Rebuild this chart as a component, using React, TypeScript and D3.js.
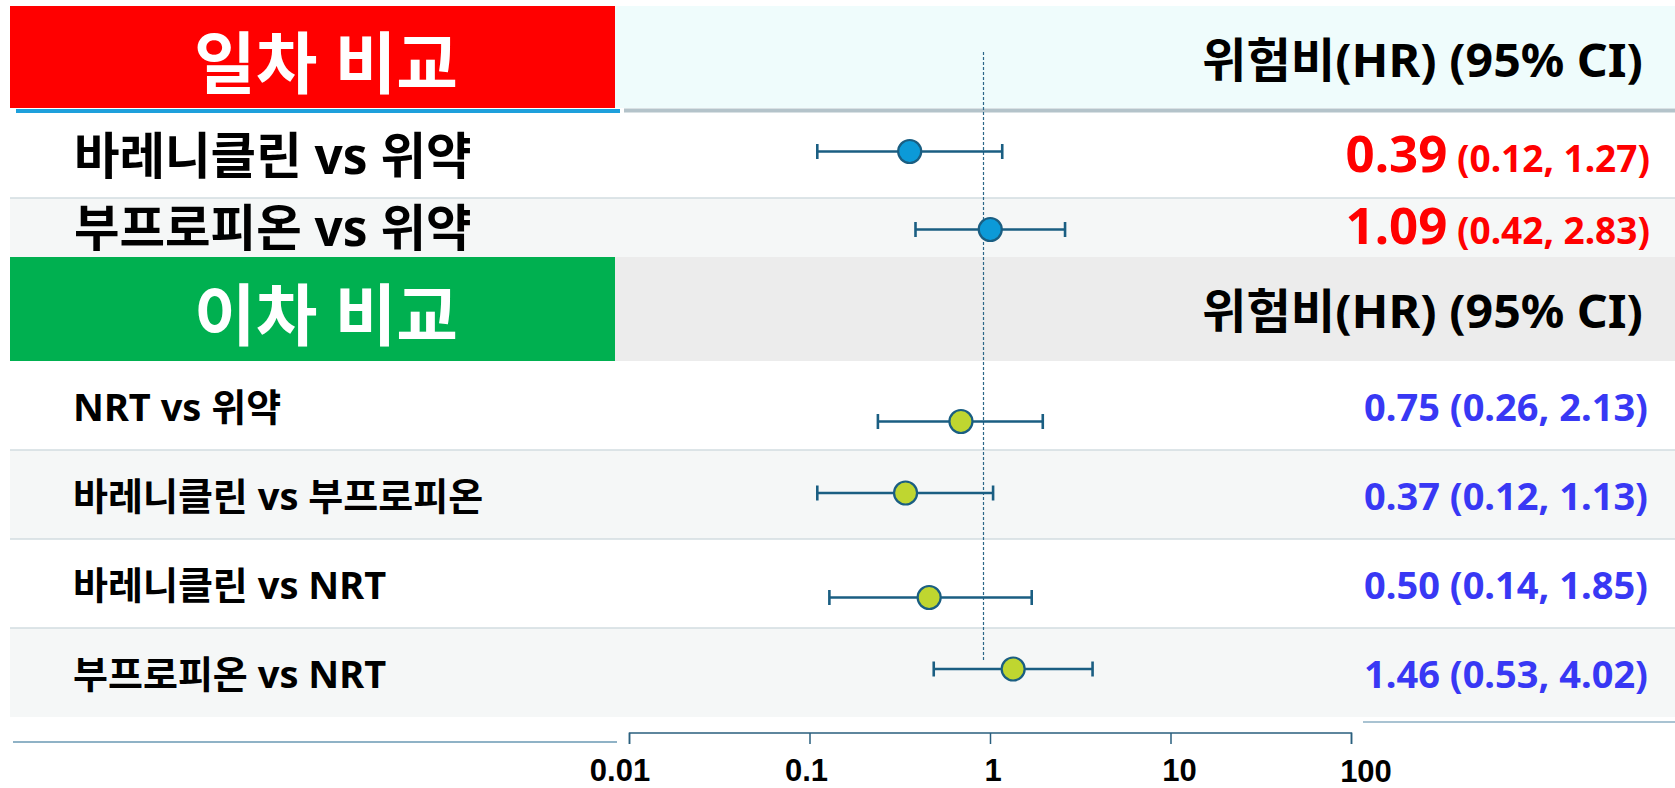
import React from "react";
import * as d3 from "d3";

// Hazard ratios with 95% confidence intervals
const sectionTitles = ["일차 비교", "이차 비교"];
const hrHeader = "위험비(HR) (95% CI)";

const primaryLabels = ["바레니클린 vs 위약", "부프로피온 vs 위약"];
const primaryHR = [0.39, 1.09];
const primaryLower = [0.12, 0.42];
const primaryUpper = [1.27, 2.83];

const secondaryLabels = ["NRT vs 위약", "바레니클린 vs 부프로피온", "바레니클린 vs NRT", "부프로피온 vs NRT"];
const secondaryHR = [0.75, 0.37, 0.5, 1.46];
const secondaryLower = [0.26, 0.12, 0.14, 0.53];
const secondaryUpper = [2.13, 1.13, 1.85, 4.02];

const axisTicks = [0.01, 0.1, 1, 10, 100];
const tickLabels = ["0.01", "0.1", "1", "10", "100"];

const W = 1675;
const H = 788;
const FONT = "'Noto Sans', 'Noto Sans CJK KR', sans-serif";
const fmt = d3.format(".2f");

// layout of the table
const headerBands = [
  { top: 6, bottom: 108, boxFill: "#ff0000", rightFill: "#effcfc" },
  { top: 257, bottom: 361, boxFill: "#00b050", rightFill: "#ececec" },
];
const boxLeft = 10;
const boxRight = 615;
const primaryRows = [
  [113, 198],
  [198, 257],
];
const secondaryTop = 361;
const secondaryRowH = 89;
const primaryNudge = [-4, 2];
const secondaryNudge = [16, -1.5, 14, -3.5];

// axis line, plotted marks and tick labels each sit on their own log scale
const axisX = d3.scaleLog().domain([0.01, 100]).range([629.5, 1351.5]);
const plotX = d3.scaleLog().domain([0.01, 100]).range([622.5, 1344.5]);
const labelX = d3.scaleLog().domain([0.01, 100]).range([620, 1366]);
const axisY = 733;

type Row = {
  label: string;
  hr: number;
  lo: number;
  hi: number;
  top: number;
  bottom: number;
  nudge: number;
  fill: string;
};

const rows1: Row[] = primaryLabels.map((label, i) => ({
  label,
  hr: primaryHR[i],
  lo: primaryLower[i],
  hi: primaryUpper[i],
  top: primaryRows[i][0],
  bottom: primaryRows[i][1],
  nudge: primaryNudge[i],
  fill: i % 2 ? "#f5f7f7" : "#ffffff",
}));

const rows2: Row[] = secondaryLabels.map((label, i) => ({
  label,
  hr: secondaryHR[i],
  lo: secondaryLower[i],
  hi: secondaryUpper[i],
  top: secondaryTop + i * secondaryRowH,
  bottom: secondaryTop + (i + 1) * secondaryRowH,
  nudge: secondaryNudge[i],
  fill: i % 2 ? "#f5f7f7" : "#ffffff",
}));

function CiMark({ r, dotFill }: { r: Row; dotFill: string }) {
  const y = (r.top + r.bottom) / 2 + r.nudge;
  const x0 = plotX(r.lo);
  const x1 = plotX(r.hi);
  const stroke = "#1a5e82";
  return (
    <g>
      <line x1={x0} x2={x1} y1={y} y2={y} stroke={stroke} strokeWidth={2.6} />
      <line x1={x0} x2={x0} y1={y - 7.5} y2={y + 7.5} stroke={stroke} strokeWidth={2.6} />
      <line x1={x1} x2={x1} y1={y - 7.5} y2={y + 7.5} stroke={stroke} strokeWidth={2.6} />
      <circle cx={plotX(r.hr)} cy={y} r={11.5} fill={dotFill} stroke={stroke} strokeWidth={2.2} />
    </g>
  );
}

export default function App() {
  return (
    <svg
      width={W}
      height={H}
      viewBox={`0 0 ${W} ${H}`}
      style={{ position: "absolute", left: 0, top: 0, background: "#ffffff" }}
    >
      {/* row backgrounds and dividers */}
      {[...rows1, ...rows2].map((r, i) => (
        <rect key={"bg" + i} x={boxLeft} y={r.top} width={W - boxLeft} height={r.bottom - r.top} fill={r.fill} />
      ))}
      {[rows1[1], rows2[1], rows2[2], rows2[3]].map((r, i) => (
        <line key={"dv" + i} x1={boxLeft} x2={W} y1={r.top} y2={r.top} stroke="#d2dde0" strokeWidth={1.5} />
      ))}

      {/* section headers */}
      {headerBands.map((b, i) => (
        <g key={"hd" + i}>
          <rect x={boxRight} y={b.top} width={W - boxRight} height={b.bottom - b.top} fill={b.rightFill} />
          <rect x={boxLeft} y={b.top} width={boxRight - boxLeft} height={b.bottom - b.top} fill={b.boxFill} />
          <text
            x={326}
            y={(b.top + b.bottom) / 2 + 4.5}
            textAnchor="middle"
            dominantBaseline="central"
            fontFamily={FONT}
            fontWeight={700}
            fontSize={67}
            fill="#ffffff"
          >
            {sectionTitles[i]}
          </text>
          <text
            x={1643}
            y={b.top + 71}
            textAnchor="end"
            fontFamily={FONT}
            fontWeight={700}
            fontSize={47}
            textLength={441}
            lengthAdjust="spacingAndGlyphs"
            fill="#000000"
          >
            {hrHeader}
          </text>
        </g>
      ))}
      <line x1={16} x2={620} y1={111} y2={111} stroke="#1ea0dc" strokeWidth={4} />
      <line x1={624} x2={W} y1={110.5} y2={110.5} stroke="#b4c3ca" strokeWidth={4} />

      {/* row labels */}
      {rows1.map((r, i) => (
        <text
          key={"l1" + i}
          x={74}
          y={(r.top + r.bottom) / 2 - 1}
          dominantBaseline="central"
          fontFamily={FONT}
          fontWeight={700}
          fontSize={49.5}
          fill="#000"
        >
          {r.label}
        </text>
      ))}
      {rows2.map((r, i) => (
        <text
          key={"l2" + i}
          x={73}
          y={(r.top + r.bottom) / 2}
          dominantBaseline="central"
          fontFamily={FONT}
          fontWeight={700}
          fontSize={38}
          fill="#000"
        >
          {r.label}
        </text>
      ))}

      {/* value columns */}
      {rows1.map((r, i) => (
        <text
          key={"v1" + i}
          x={1650}
          y={(r.top + r.bottom) / 2 + 16.5}
          textAnchor="end"
          fontFamily={FONT}
          fontWeight={700}
          fill="#ff0000"
        >
          <tspan fontSize={51}>{fmt(r.hr)}</tspan>
          <tspan fontSize={37}>{` (${fmt(r.lo)}, ${fmt(r.hi)})`}</tspan>
        </text>
      ))}
      {rows2.map((r, i) => (
        <text
          key={"v2" + i}
          x={1648}
          y={(r.top + r.bottom) / 2 + 15.5}
          textAnchor="end"
          fontFamily={FONT}
          fontWeight={700}
          fontSize={38}
          fill="#3838f4"
        >
          {`${fmt(r.hr)} (${fmt(r.lo)}, ${fmt(r.hi)})`}
        </text>
      ))}

      {/* reference line at HR = 1 */}
      <line
        x1={plotX(1)}
        x2={plotX(1)}
        y1={52}
        y2={662}
        stroke="#2a6688"
        strokeWidth={1.2}
        strokeDasharray="3,2"
      />

      {/* estimates */}
      {rows1.map((r, i) => (
        <CiMark key={"m1" + i} r={r} dotFill="#0c9ad8" />
      ))}
      {rows2.map((r, i) => (
        <CiMark key={"m2" + i} r={r} dotFill="#bfd630" />
      ))}

      {/* log axis */}
      <line x1={13} x2={617} y1={742} y2={742} stroke="#8fb2c6" strokeWidth={2} />
      <line x1={1363} x2={W} y1={722} y2={722} stroke="#a9c3d2" strokeWidth={2} />
      <path
        d={`M${axisX(0.01)},${axisY + 11}V${axisY}H${axisX(100)}V${axisY + 11}`}
        fill="none"
        stroke="#2a5f7e"
        strokeWidth={1.5}
      />
      {axisTicks.map((t, i) => (
        <g key={"t" + i}>
          <line x1={axisX(t)} x2={axisX(t)} y1={axisY} y2={axisY + 11} stroke="#2a5f7e" strokeWidth={1.5} />
          <text
            x={labelX(t)}
            y={i === axisTicks.length - 1 ? 782 : 780.5}
            textAnchor="middle"
            fontFamily="'Liberation Sans Narrow', 'Arial Narrow', 'Liberation Sans', sans-serif"
            fontWeight={700}
            fontSize={31}
            fill="#000"
          >
            {tickLabels[i]}
          </text>
        </g>
      ))}
    </svg>
  );
}
